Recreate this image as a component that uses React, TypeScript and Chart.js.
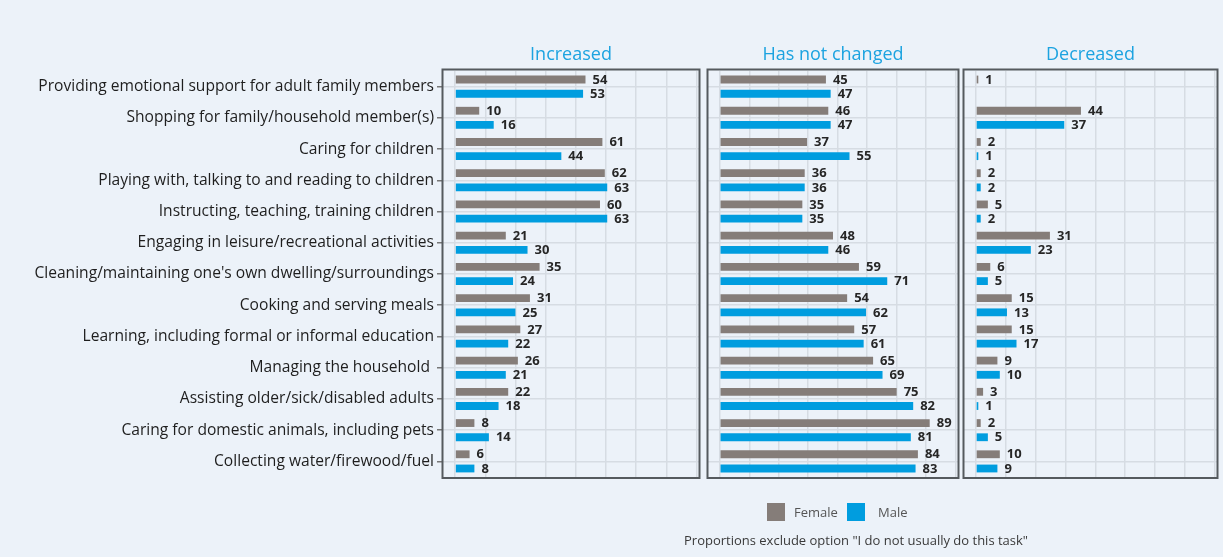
import React, { useEffect, useRef } from 'react';
import { Chart, registerables } from 'chart.js';

Chart.register(...registerables);

const categories = [
  'Providing emotional support for adult family members',
  'Shopping for family/household member(s)',
  'Caring for children',
  'Playing with, talking to and reading to children',
  'Instructing, teaching, training children',
  'Engaging in leisure/recreational activities',
  "Cleaning/maintaining one's own dwelling/surroundings",
  'Cooking and serving meals',
  'Learning, including formal or informal education',
  'Managing the household ',
  'Assisting older/sick/disabled adults',
  'Caring for domestic animals, including pets',
  'Collecting water/firewood/fuel',
];

const increasedFemale = [54, 10, 61, 62, 60, 21, 35, 31, 27, 26, 22, 8, 6];
const increasedMale = [53, 16, 44, 63, 63, 30, 24, 25, 22, 21, 18, 14, 8];
const unchangedFemale = [45, 46, 37, 36, 35, 48, 59, 54, 57, 65, 75, 89, 84];
const unchangedMale = [47, 47, 55, 36, 35, 46, 71, 62, 61, 69, 82, 81, 83];
const decreasedFemale = [1, 44, 2, 2, 5, 31, 6, 15, 15, 9, 3, 2, 10];
const decreasedMale = [null, 37, 1, 2, 2, 23, 5, 13, 17, 10, 1, 5, 9];

const gridTicks = [0, 12.5, 25, 37.5, 50, 62.5, 75, 87.5, 100];
const panelTitles = ['Increased', 'Has not changed', 'Decreased'];
const seriesNames = ['Female', 'Male'];
const footnote = 'Proportions exclude option "I do not usually do this task"';

const BG = '#ecf2f9';
const FEMALE = '#857d79';
const MALE = '#009ddf';
const TITLE_BLUE = '#1ca3e0';
const GRID = '#d6dce3';
const FONT = '"Open Sans", sans-serif';

Chart.defaults.font.family = FONT;

function buildPanel(
  canvas: HTMLCanvasElement,
  female: (number | null)[],
  male: (number | null)[],
  title: string,
  showLabels: boolean,
  padLeft: number,
  padRight: number
) {
  const deco = {
    id: 'panelDeco',
    afterDatasetsDraw(chart: any) {
      const ctx = chart.ctx;
      ctx.save();
      ctx.font = `bold 13px ${FONT}`;
      ctx.fillStyle = '#262626';
      ctx.textAlign = 'left';
      ctx.textBaseline = 'middle';
      chart.data.datasets.forEach((ds: any, di: number) => {
        const meta = chart.getDatasetMeta(di);
        meta.data.forEach((el: any, i: number) => {
          const v = ds.data[i];
          if (v === null || v === undefined) return;
          ctx.fillText(String(v), el.x + 7, el.y + 0.5);
        });
      });
      ctx.restore();
    },
    afterDraw(chart: any) {
      const ctx = chart.ctx;
      const a = chart.chartArea;
      ctx.save();
      ctx.strokeStyle = '#555a5e';
      ctx.lineWidth = 2;
      ctx.strokeRect(a.left - 0.5, a.top - 1.5, a.right - a.left + 1, a.bottom - a.top + 2.5);
      ctx.font = `500 18px ${FONT}`;
      ctx.fillStyle = TITLE_BLUE;
      ctx.textAlign = 'center';
      ctx.textBaseline = 'middle';
      ctx.fillText(title, (a.left + a.right) / 2, 55);
      ctx.restore();
    },
  };

  return new Chart(canvas, {
    type: 'bar',
    data: {
      labels: categories,
      datasets: [
        { label: seriesNames[0], data: female, backgroundColor: FEMALE, categoryPercentage: 0.91, barPercentage: 0.55 },
        { label: seriesNames[1], data: male, backgroundColor: MALE, categoryPercentage: 0.91, barPercentage: 0.55 },
      ],
    },
    options: {
      indexAxis: 'y',
      responsive: false,
      animation: false,
      layout: { padding: { top: 71, bottom: 80, left: padLeft, right: padRight } },
      plugins: { legend: { display: false }, tooltip: { enabled: false }, title: { display: false } },
      scales: {
        x: {
          type: 'linear',
          min: -5,
          max: 101,
          ticks: { display: false },
          grid: { color: GRID, lineWidth: 1.5, drawTicks: false },
          border: { display: false },
          afterBuildTicks(s: any) {
            s.ticks = gridTicks.map((v) => ({ value: v }));
          },
          afterFit(s: any) {
            s.height = 0;
          },
        },
        y: {
          type: 'category',
          ticks: {
            display: showLabels,
            autoSkip: false,
            color: '#1e1e1e',
            font: { size: 15.6, family: FONT },
            padding: 3,
          },
          grid: {
            offset: false,
            color: GRID,
            lineWidth: 1.5,
            drawTicks: showLabels,
            tickLength: 6,
            tickColor: '#777',
          },
          border: { display: false },
          afterFit(s: any) {
            s.width = showLabels ? 443 : 0;
          },
        },
      },
    },
    plugins: [deco],
  } as any);
}

export default function App() {
  const r1 = useRef<HTMLCanvasElement>(null);
  const r2 = useRef<HTMLCanvasElement>(null);
  const r3 = useRef<HTMLCanvasElement>(null);

  useEffect(() => {
    const c1 = buildPanel(r1.current!, increasedFemale, increasedMale, panelTitles[0], true, 0, 6);
    const c2 = buildPanel(r2.current!, unchangedFemale, unchangedMale, panelTitles[1], false, 8, 7);
    const c3 = buildPanel(r3.current!, decreasedFemale, decreasedMale, panelTitles[2], false, 9, 6);
    return () => {
      c1.destroy();
      c2.destroy();
      c3.destroy();
    };
  }, []);

  const legendText: React.CSSProperties = {
    position: 'absolute',
    top: 503,
    height: 18,
    lineHeight: '18px',
    fontSize: 13,
    color: '#555',
  };

  return (
    <div
      style={{
        position: 'absolute',
        left: 0,
        top: 0,
        width: 1223,
        height: 557,
        background: BG,
        overflow: 'hidden',
        fontFamily: FONT,
      }}
    >
      <canvas ref={r1} width={705} height={557} style={{ position: 'absolute', left: 0, top: 0, width: 705, height: 557 }} />
      <canvas ref={r2} width={265} height={557} style={{ position: 'absolute', left: 700, top: 0, width: 265, height: 557 }} />
      <canvas ref={r3} width={268} height={557} style={{ position: 'absolute', left: 955, top: 0, width: 268, height: 557 }} />
      <div style={{ position: 'absolute', left: 767, top: 503, width: 18, height: 18, background: FEMALE }} />
      <div style={{ ...legendText, left: 794 }}>{seriesNames[0]}</div>
      <div style={{ position: 'absolute', left: 847, top: 503, width: 18, height: 18, background: MALE }} />
      <div style={{ ...legendText, left: 878 }}>{seriesNames[1]}</div>
      <div style={{ position: 'absolute', left: 684, top: 531, height: 18, lineHeight: '18px', fontSize: 13, color: '#3a3a3a', whiteSpace: 'nowrap' }}>
        {footnote}
      </div>
    </div>
  );
}
